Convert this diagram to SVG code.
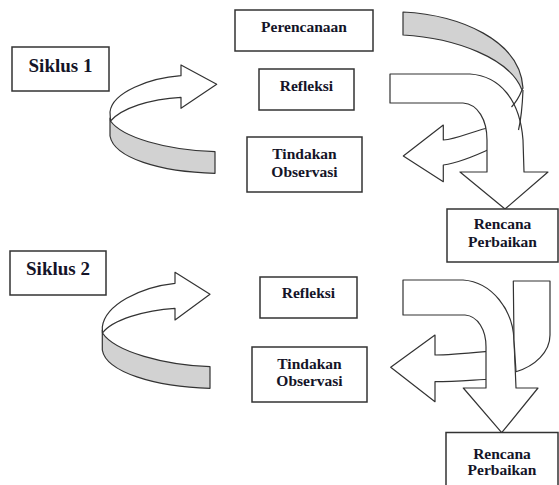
<svg xmlns="http://www.w3.org/2000/svg" width="559" height="485" viewBox="0 0 559 485">
<style>
.box{fill:#fff;stroke:#333;stroke-width:1.5}
.lbl{font-family:'Liberation Serif','DejaVu Serif',serif;font-weight:700;font-size:15.5px;fill:#141428;text-anchor:middle}
.big{font-size:19px}
.w{fill:#fff;stroke:#333;stroke-width:1.2;stroke-linejoin:round}
.g{fill:#d2d2d2;stroke:#333;stroke-width:1.2;stroke-linejoin:round}
.ln{fill:none;stroke:#333;stroke-width:1.2}
</style>
<rect width="559" height="485" fill="#fff"/>
<g id="connectors">
  <path class="g" d="M110.5,121 C122,137 165,150 215,151.7 L215,173.3 C160,172 114,158 110,136 L110,118 Z"/>
  <path class="w" d="M181,75.7 C150,78 112,92 110,112 L110.5,121 C122,108 150,99 181,97.3 L181,108.3 L216.7,84.3 L181,65 Z"/>
  <path class="w" d="M492,127 C475,130 458,139 443.3,140 L443.3,125 L403.3,156 L443.3,181.7 L443.3,165 C458,163 475,156 492,148 Z"/>
  <path class="w" d="M390,74 L470,74 C500,76 520,100 523,140 L524,172 L548,172 L505,209 L460,172 L487,172 L487,140 C487,120 478,104 463,103 L390,103 Z"/>
  <path class="g" d="M403,12 C460,15 520,40 523,88 L522,90 C510,58 455,38 403,35 Z"/>
  <path class="ln" d="M522,90 Q518,100 511.5,107"/>
  <path class="ln" d="M523,90 Q522,115 518.5,130"/>
  <path class="g" d="M102.5,333 C115,352 165,365 210,366.7 L210,388.3 C155,387 106,372 102.3,350 L102.3,330 Z"/>
  <path class="w" d="M175,283.3 C140,287 105,305 102.3,327 L102.5,333 C112,320 145,310 175,308.3 L175,320 L210,294.3 L175,272.3 Z"/>
  <path class="w" d="M492,351 C470,353 450,355 435,355 L435,335 L390.7,367.3 L435,401.7 L435,381.7 C455,381.5 472,380 492,379 Z"/>
  <path class="w" d="M403,280 L463,280 C492,282 513,310 514,340 L516,388 L538,388 L501.7,432.7 L463.3,388 L486,388 L486,346.7 C486,330 478,316 465,315 L403,315 Z"/>
  <path class="w" d="M513.3,281 L550,281 L550,335 C550,352 535,366 516,371.7 L514,340 Z"/>
</g>
<g id="siklus1"><rect class="box" x="12" y="47" width="97" height="44"/><text class="lbl big" x="60.5" y="71.5">Siklus 1</text></g>
<g id="perencanaan"><rect class="box" x="235" y="10" width="138" height="41"/><text class="lbl" x="304" y="32">Perencanaan</text></g>
<g id="refleksi1"><rect class="box" x="259" y="69" width="95" height="41"/><text class="lbl" x="306.5" y="90.5">Refleksi</text></g>
<g id="tindakan1"><rect class="box" x="247" y="137" width="115" height="55"/><text class="lbl" x="304.5" y="159">Tindakan</text><text class="lbl" x="304.5" y="176.5">Observasi</text></g>
<g id="rencana1"><rect class="box" x="447" y="209" width="111" height="53"/><text class="lbl" x="502.5" y="229">Rencana</text><text class="lbl" x="502.5" y="247">Perbaikan</text></g>
<g id="siklus2"><rect class="box" x="10" y="251" width="96" height="44"/><text class="lbl big" x="58" y="275">Siklus 2</text></g>
<g id="refleksi2"><rect class="box" x="260" y="277" width="97" height="41"/><text class="lbl" x="308.5" y="297.5">Refleksi</text></g>
<g id="tindakan2"><rect class="box" x="252" y="347" width="115" height="55"/><text class="lbl" x="309.5" y="368.5">Tindakan</text><text class="lbl" x="309.5" y="386">Observasi</text></g>
<g id="rencana2"><rect class="box" x="446" y="432.5" width="112" height="60"/><text class="lbl" x="502" y="458.5">Rencana</text><text class="lbl" x="502" y="474.5">Perbaikan</text></g>
</svg>
